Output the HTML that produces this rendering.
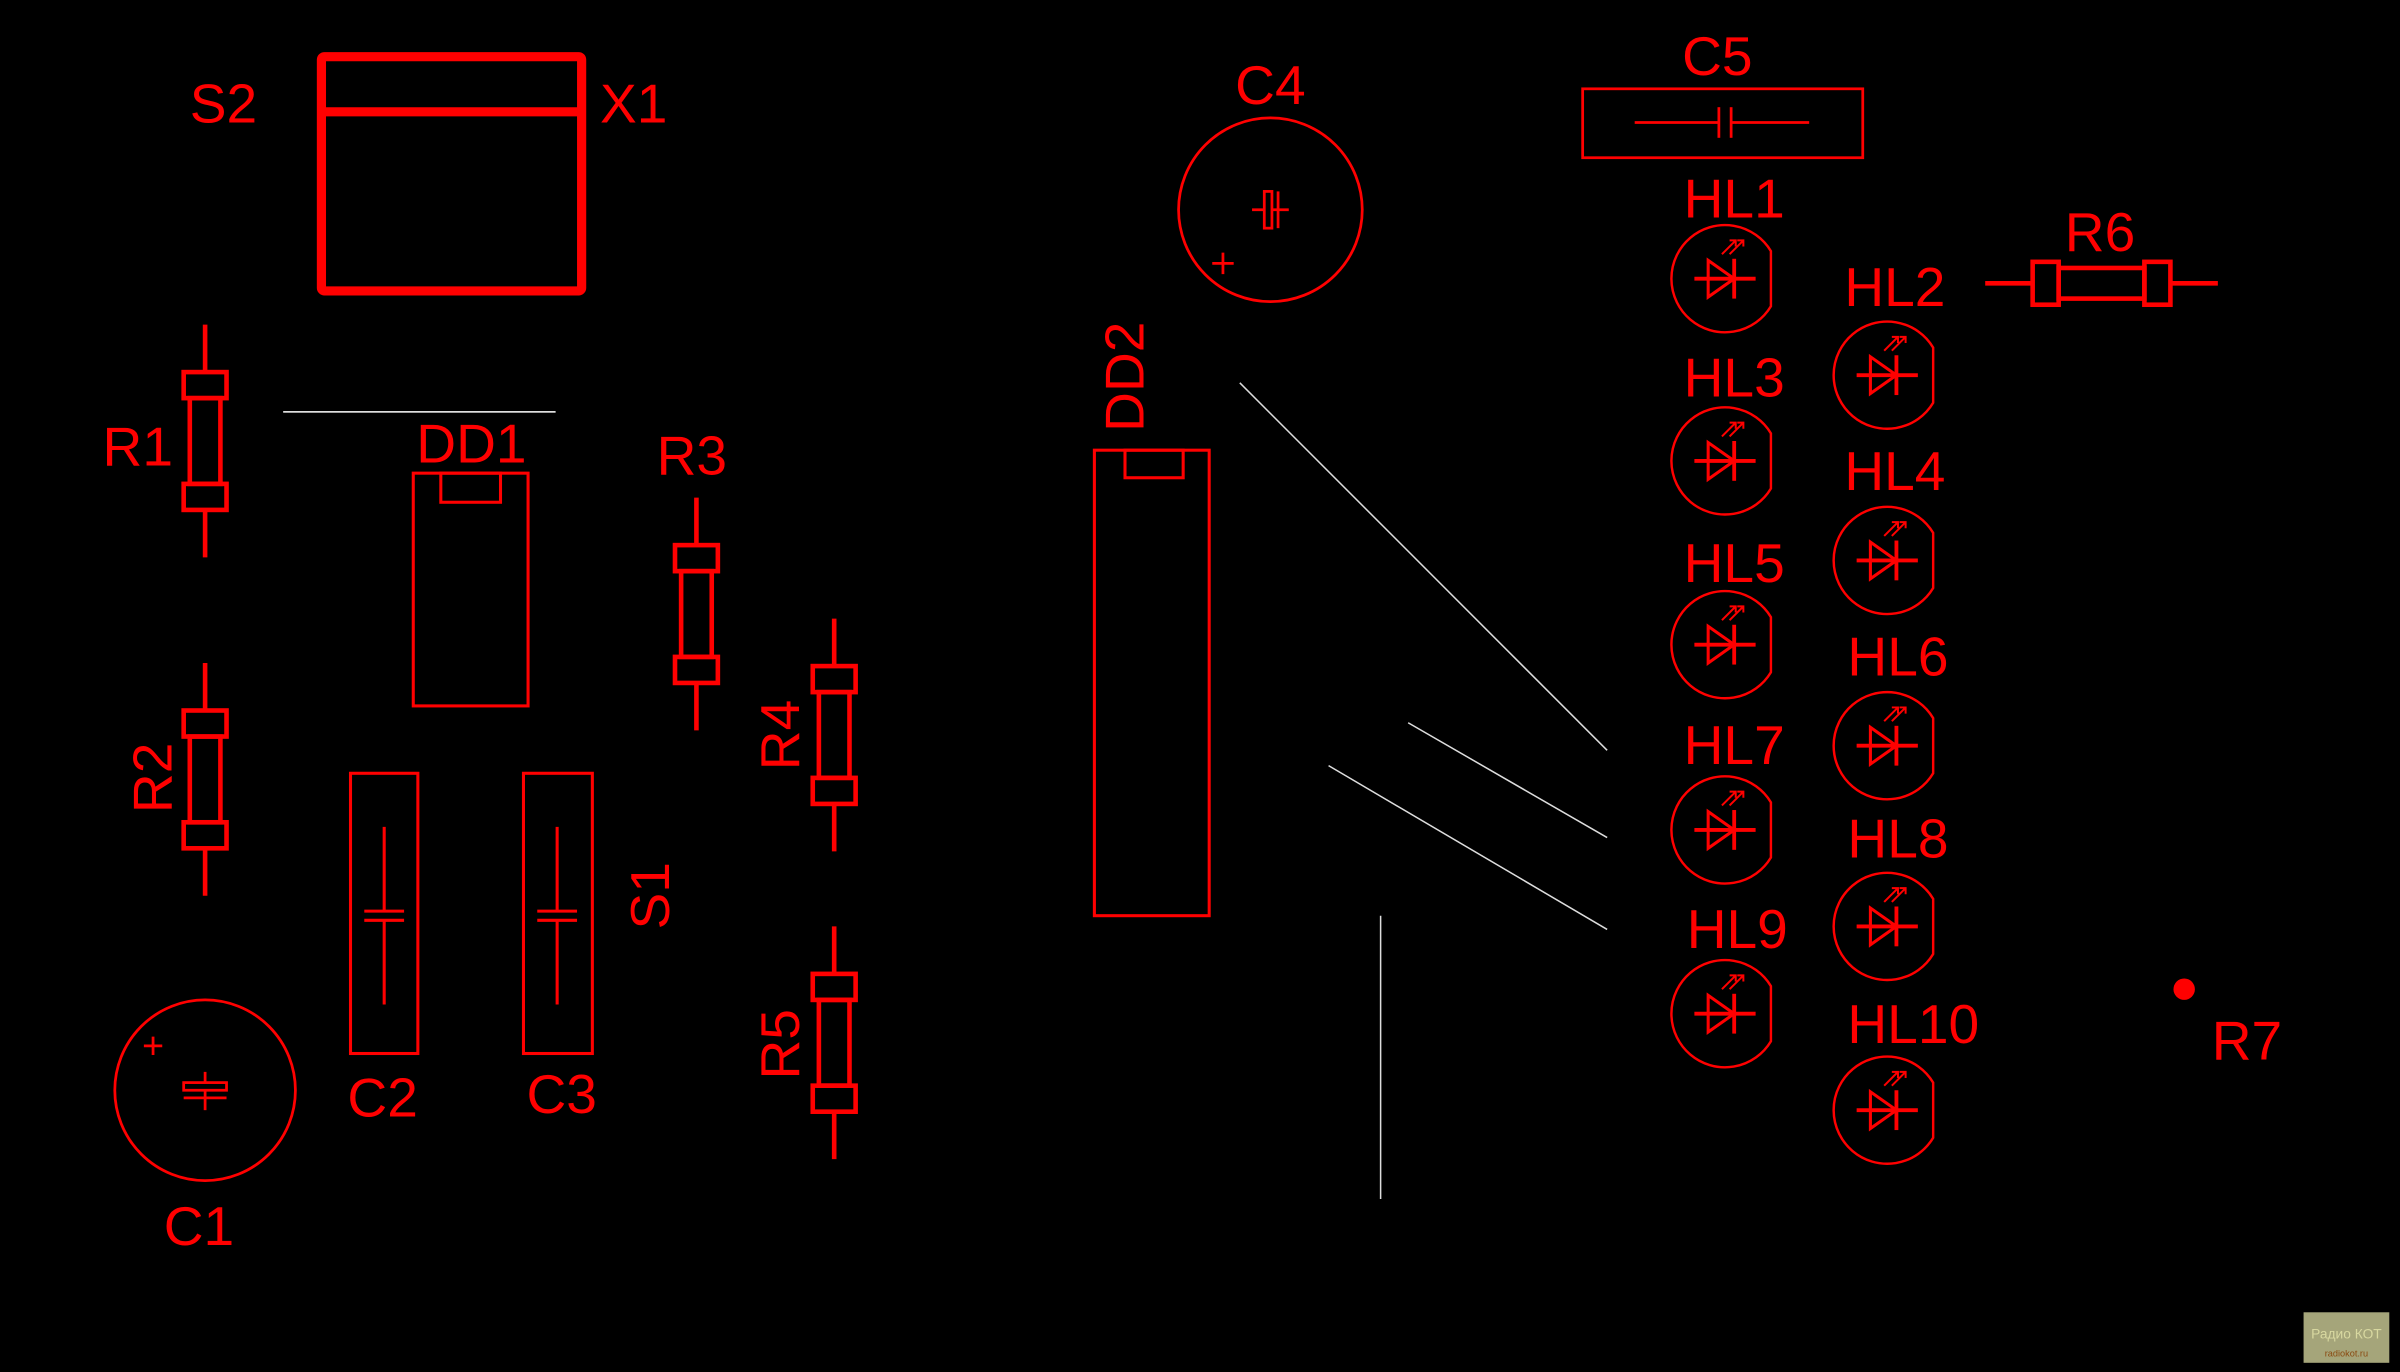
<!DOCTYPE html>
<html><head><meta charset="utf-8"><style>
html,body{margin:0;padding:0;background:#000;width:2400px;height:1372px;overflow:hidden}
svg{display:block}
text{font-family:"Liberation Sans Narrow","Liberation Sans",sans-serif;fill:#f00;font-size:36px;text-anchor:middle}
</style></head><body>
<svg width="2400" height="1372" viewBox="0 0 1568 896" preserveAspectRatio="none" xmlns="http://www.w3.org/2000/svg">
<defs>
<g id="rv" fill="none" stroke="#f00" stroke-width="3">
<line x1="0" y1="-76" x2="0" y2="-45"/>
<line x1="0" y1="45" x2="0" y2="76"/>
<rect x="-14" y="-45" width="28" height="17"/>
<rect x="-14" y="28" width="28" height="17"/>
<rect x="-10" y="-28" width="20" height="56"/>
</g>
<g id="led" fill="none" stroke="#f00">
<path d="M30,-18 A35,35 0 1 0 30,18 Z" stroke-width="1.6"/>
<line x1="-20" y1="0" x2="20" y2="0" stroke-width="2.5"/>
<path d="M-11,-12 L-11,12 L6,0 Z" stroke-width="2"/>
<line x1="6" y1="-13" x2="6" y2="13" stroke-width="2.5"/>
<path d="M-2,-16 L7,-25 M3,-25 L7,-25 L7,-21 M3,-16 L12,-25 M8,-25 L12,-25 L12,-21" stroke-width="1.3"/>
</g>
</defs>
<rect width="1568" height="896" fill="#000"/>

<rect x="210" y="37" width="170" height="153" rx="2" fill="none" stroke="#f00" stroke-width="6"/>
<line x1="210" y1="73" x2="380" y2="73" stroke="#f00" stroke-width="6"/>
<text x="146" y="80">S2</text>
<text x="414" y="80">X1</text>

<use href="#rv" x="134" y="288"/>
<text x="90" y="304">R1</text>
<use href="#rv" x="134" y="509"/>
<text transform="translate(112,508) rotate(-90)">R2</text>
<use href="#rv" x="455" y="401"/>
<text x="452" y="310">R3</text>
<use href="#rv" x="545" y="480"/>
<text transform="translate(522,480) rotate(-90)">R4</text>
<use href="#rv" x="545" y="681"/>
<text transform="translate(522,682) rotate(-90)">R5</text>
<use href="#rv" transform="translate(1373,185) rotate(-90)"/>
<text x="1372" y="164">R6</text>

<line x1="185" y1="269" x2="363" y2="269" stroke="#fff" stroke-width="1"/>
<rect x="270" y="309" width="75" height="152" fill="none" stroke="#f00" stroke-width="2"/>
<rect x="288" y="309" width="39" height="19" fill="none" stroke="#f00" stroke-width="2"/>
<text x="308" y="302">DD1</text>

<rect x="715" y="294" width="75" height="304" fill="none" stroke="#f00" stroke-width="2"/>
<rect x="735" y="294" width="38" height="18" fill="none" stroke="#f00" stroke-width="2"/>
<text transform="translate(747,246) rotate(-90)">DD2</text>

<g stroke="#ddd" stroke-width="1">
<line x1="810" y1="250" x2="1050" y2="490"/>
<line x1="920" y1="472" x2="1050" y2="547"/>
<line x1="868" y1="500" x2="1050" y2="607"/>
<line x1="902" y1="598" x2="902" y2="783"/>
</g>

<g fill="none" stroke="#f00" stroke-width="2">
<rect x="229" y="505" width="44" height="183"/>
<line x1="251" y1="540" x2="251" y2="595"/><line x1="251" y1="601" x2="251" y2="656"/>
<line x1="238" y1="595" x2="264" y2="595"/><line x1="238" y1="601" x2="264" y2="601"/>
<rect x="342" y="505" width="45" height="183"/>
<line x1="364" y1="540" x2="364" y2="595"/><line x1="364" y1="601" x2="364" y2="656"/>
<line x1="351" y1="595" x2="377" y2="595"/><line x1="351" y1="601" x2="377" y2="601"/>
</g>
<text x="250" y="729">C2</text>
<text x="367" y="727">C3</text>
<text transform="translate(437,585) rotate(-90)">S1</text>

<g fill="none" stroke="#f00" stroke-width="1.8">
<circle cx="134" cy="712" r="59"/>
<path d="M94,683 H106 M100,677 V689"/>
<line x1="134" y1="700" x2="134" y2="725"/>
<rect x="120" y="707" width="28" height="5" fill="#000"/>
<line x1="120" y1="717" x2="148" y2="717"/>
</g>
<text x="130" y="813">C1</text>

<g fill="none" stroke="#f00" stroke-width="1.8">
<circle cx="830" cy="137" r="60"/>
<path d="M792,172 H806 M799,165 V179"/>
<line x1="818" y1="137" x2="842" y2="137"/>
<rect x="826" y="125" width="5" height="24" fill="#000"/>
<line x1="835" y1="125" x2="835" y2="149"/>
</g>
<text x="830" y="68">C4</text>

<g fill="none" stroke="#f00" stroke-width="1.8">
<rect x="1034" y="58" width="183" height="45"/>
<line x1="1068" y1="80" x2="1123" y2="80"/><line x1="1131" y1="80" x2="1182" y2="80"/>
<line x1="1123" y1="70" x2="1123" y2="90"/><line x1="1131" y1="70" x2="1131" y2="90"/>
</g>
<text x="1122" y="49">C5</text>

<use href="#led" x="1127" y="182"/><text x="1133" y="142">HL1</text>
<use href="#led" x="1127" y="301"/><text x="1133" y="259">HL3</text>
<use href="#led" x="1127" y="421"/><text x="1133" y="380">HL5</text>
<use href="#led" x="1127" y="542"/><text x="1133" y="499">HL7</text>
<use href="#led" x="1127" y="662"/><text x="1135" y="619">HL9</text>
<use href="#led" x="1233" y="245"/><text x="1238" y="200">HL2</text>
<use href="#led" x="1233" y="366"/><text x="1238" y="320">HL4</text>
<use href="#led" x="1233" y="487"/><text x="1240" y="441">HL6</text>
<use href="#led" x="1233" y="605"/><text x="1240" y="560">HL8</text>
<use href="#led" x="1233" y="725"/><text x="1250" y="681">HL10</text>

<circle cx="1427" cy="646" r="7" fill="#f00"/>
<text x="1468" y="692">R7</text>

<rect x="1505" y="857" width="56" height="33" fill="#a5a57a"/>
<text x="1533" y="874" style="font-size:9px;fill:#d8d8a0">Радио КОТ</text>
<text x="1533" y="886" style="font-size:6px;fill:#8a4a10">radiokot.ru</text>
</svg>
</body></html>
